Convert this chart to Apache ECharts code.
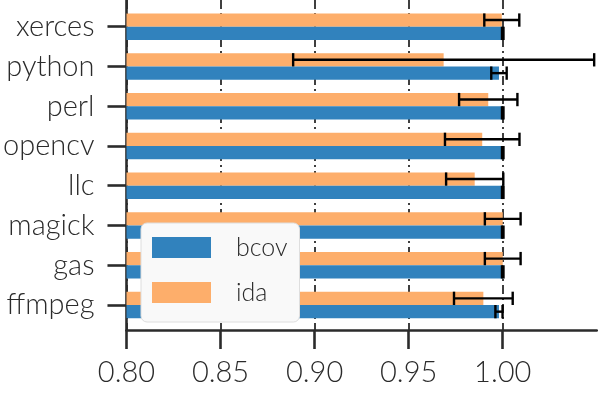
<!DOCTYPE html>
<html><head><meta charset="utf-8">
<script src="https://cdn.jsdelivr.net/npm/echarts@6/dist/echarts.min.js"></script>
<style>html,body{margin:0;padding:0;background:#fff}#c{width:598px;height:398px}</style>
</head><body><div id="c"></div>
<script>
// categories listed bottom -> top
const categories = ['ffmpeg', 'gas', 'magick', 'llc', 'opencv', 'perl', 'python', 'xerces'];
const bcov    = [0.998,  1.0,    1.0,    1.0,    1.0,    1.0,    0.998,  1.0];
const bcovErr = [0.0019, 0.0004, 0.0004, 0.0004, 0.0004, 0.0004, 0.0041, 0.0004];
const ida     = [0.9897, 1.0,    1.0,    0.9851, 0.9891, 0.9923, 0.9686, 0.9995];
const idaErr  = [0.0156, 0.0095, 0.0095, 0.0152, 0.0198, 0.0155, 0.0800, 0.0093];
const xTicks = [0.80, 0.85, 0.90, 0.95, 1.00];
const seriesNames = ['bcov', 'ida'];

const X_MIN = 0.8, X_MAX = 1.05;
const BAR_H = 0.335;
const FONT = 'Lato';
const INK = '#2b2b2b';
const BLUE = '#3182bd', ORANGE = '#fdae6b';
const catIdx = categories.map((c, i) => i);

function barRender(offset) {
  return function (params, api) {
    const v = api.value(0), y = api.value(1) + offset;
    const p0 = api.coord([X_MIN, y]);
    const p1 = api.coord([v, y]);
    const h = api.size([0, BAR_H])[1];
    return { type: 'rect', shape: { x: p0[0], y: p0[1] - h / 2, width: p1[0] - p0[0], height: h },
      style: { fill: api.visual('color') } };
  };
}
function errRender(offset) {
  return function (params, api) {
    const c = api.value(0), y = api.value(1) + offset, e = api.value(2);
    const a = api.coord([c - e, y]), b = api.coord([c + e, y]);
    const h = api.size([0, BAR_H])[1];
    const st = { stroke: '#000', lineWidth: 2.4 };
    return { type: 'group', children: [
      { type: 'line', shape: { x1: a[0], y1: a[1], x2: b[0], y2: b[1] }, style: st },
      { type: 'line', shape: { x1: a[0], y1: a[1] - h / 2, x2: a[0], y2: a[1] + h / 2 }, style: st },
      { type: 'line', shape: { x1: b[0], y1: b[1] - h / 2, x2: b[0], y2: b[1] + h / 2 }, style: st }
    ] };
  };
}

const chart = echarts.init(document.getElementById('c'), null, { renderer: 'canvas' });
chart.setOption({
  animation: false,
  backgroundColor: '#ffffff',
  grid: { left: 126.3, top: 0, width: 470.5, height: 330, containLabel: false },
  legend: {
    orient: 'vertical', left: 141, top: 223,
    padding: [12, 12, 17, 11],
    itemWidth: 59, itemHeight: 21, itemGap: 20,
    backgroundColor: '#f9f9f9', borderColor: '#dedede', borderWidth: 1, borderRadius: 6,
    data: seriesNames.map(n => ({ name: n, icon: 'rect' })),
    textStyle: { fontFamily: FONT, fontWeight: 300, fontSize: 25, color: INK, lineHeight: 21, padding: [0, 0, 0, 20] }
  },
  xAxis: {
    type: 'value', min: X_MIN, max: X_MAX, interval: 0.05,
    axisLine: { show: true, onZero: false, lineStyle: { color: INK, width: 2.6 } },
    axisTick: { show: true, customValues: xTicks, length: 19, lineStyle: { color: INK, width: 2.6 } },
    axisLabel: { customValues: xTicks, formatter: v => v.toFixed(2), fontFamily: FONT, fontWeight: 300, fontSize: 29, color: INK, margin: 28 },
    splitLine: { show: true, lineStyle: { color: '#000', width: 1.5, type: [9, 4, 2, 4] } }
  },
  yAxis: {
    type: 'value', min: -0.629, max: 7.672,
    axisLine: { show: true, onZero: false, lineStyle: { color: INK, width: 2.6 } },
    axisTick: { show: true, customValues: catIdx, length: 19, lineStyle: { color: INK, width: 2.6 } },
    axisLabel: { customValues: catIdx, formatter: v => categories[Math.round(v)], fontFamily: FONT, fontWeight: 300, fontSize: 29, color: INK, margin: 32 },
    splitLine: { show: false }
  },
  series: [
    { name: 'ida', type: 'custom', clip: false, z: 2, itemStyle: { color: ORANGE },
      renderItem: barRender(BAR_H / 2), encode: { x: 0, y: 1 },
      data: catIdx.map(i => [ida[i], i]) },
    { name: 'bcov', type: 'custom', clip: false, z: 2, itemStyle: { color: BLUE },
      renderItem: barRender(-BAR_H / 2), encode: { x: 0, y: 1 },
      data: catIdx.map(i => [bcov[i], i]) },
    { name: 'ida err', type: 'custom', clip: false, z: 3, itemStyle: { color: '#000' },
      renderItem: errRender(BAR_H / 2), encode: { x: 0, y: 1 },
      data: catIdx.map(i => [ida[i], i, idaErr[i]]) },
    { name: 'bcov err', type: 'custom', clip: false, z: 3, itemStyle: { color: '#000' },
      renderItem: errRender(-BAR_H / 2), encode: { x: 0, y: 1 },
      data: catIdx.map(i => [bcov[i], i, bcovErr[i]]) }
  ]
});
</script></body></html>
